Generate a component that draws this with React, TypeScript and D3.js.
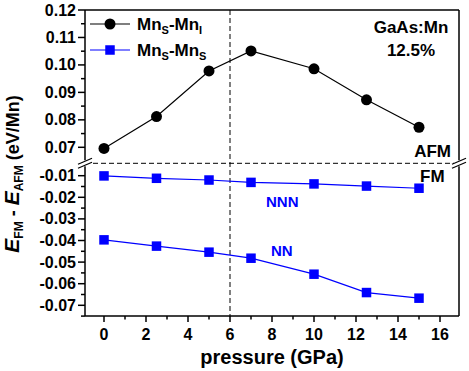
import React from "react";
import { scaleLinear, line, range } from "d3";

const pressure = [0, 2.5, 5, 7, 10, 12.5, 15];
const mnsMni = [0.0696, 0.0812, 0.0978, 0.1051, 0.0986, 0.0873, 0.0773];
const nnn = [-0.0101, -0.0112, -0.012, -0.0131, -0.0138, -0.0148, -0.0158];
const nn = [-0.0397, -0.0426, -0.0454, -0.0482, -0.0556, -0.0641, -0.0667];
const xTicks = [0, 2, 4, 6, 8, 10, 12, 14, 16];
const yTopTicks = [0.07, 0.08, 0.09, 0.1, 0.11, 0.12];
const yBotTicks = [-0.01, -0.02, -0.03, -0.04, -0.05, -0.06, -0.07];

const FONT = "'Liberation Sans', Arial, sans-serif";
const BLUE = "#0000ff";

export default function App() {
  const width = 469;
  const height = 371;
  const left = 85;
  const right = 459;
  const top = 10;
  const bottom = 316;
  const breakY = 163.3;
  const sq = 9.5;

  const x = scaleLinear().domain([0, 16]).range([104, 440]);
  const yTop = scaleLinear().domain([0.07, 0.12]).range([147.3, top]);
  const yBot = scaleLinear().domain([-0.01, -0.07]).range([175.7, 305.3]);

  const topLine = line<number>()
    .x((_, i) => x(pressure[i]))
    .y((d) => yTop(d));
  const botLine = line<number>()
    .x((_, i) => x(pressure[i]))
    .y((d) => yBot(d));

  const breakMark = (cx: number) => (
    <g>
      <rect x={cx - 5} y={breakY - 3} width={10} height={6} fill="white" />
      <line x1={cx - 7} y1={breakY + 1} x2={cx + 7} y2={breakY - 5} stroke="black" strokeWidth={1.2} />
      <line x1={cx - 7} y1={breakY + 5} x2={cx + 7} y2={breakY - 1} stroke="black" strokeWidth={1.2} />
    </g>
  );

  return (
    <svg width={width} height={height} style={{ position: "absolute", left: 0, top: 0 }} fontFamily={FONT}>
      <rect width={width} height={height} fill="white" />

      {/* dashed guides */}
      <line x1={x(6)} x2={x(6)} y1={top} y2={bottom} stroke="black" strokeDasharray="5,3" strokeWidth={1} />
      <line x1={left} x2={right} y1={breakY} y2={breakY} stroke="black" strokeDasharray="5,3" strokeWidth={1} />

      {/* frame */}
      <line x1={left} x2={right} y1={top} y2={top} stroke="black" strokeWidth={1.5} />
      <line x1={left} x2={right} y1={bottom} y2={bottom} stroke="black" strokeWidth={1.5} />
      <line x1={left} x2={left} y1={top} y2={bottom} stroke="black" strokeWidth={1.5} />
      <line x1={right} x2={right} y1={top} y2={bottom} stroke="black" strokeWidth={1.5} />
      {breakMark(left)}
      {breakMark(right)}

      {/* x ticks */}
      {xTicks.map((t) => (
        <g key={"x" + t}>
          <line x1={x(t)} x2={x(t)} y1={bottom} y2={bottom + 6} stroke="black" strokeWidth={1.5} />
          <text x={x(t)} y={340} textAnchor="middle" fontSize={16} fontWeight="bold">{t}</text>
        </g>
      ))}
      {range(1, 17, 2).map((t) => (
        <line key={"xm" + t} x1={x(t)} x2={x(t)} y1={bottom} y2={bottom + 3.5} stroke="black" strokeWidth={1.5} />
      ))}

      {/* y ticks top */}
      {yTopTicks.map((t) => (
        <g key={"yt" + t}>
          <line x1={left - 7} x2={left} y1={yTop(t)} y2={yTop(t)} stroke="black" strokeWidth={1.5} />
          <text x={76} y={yTop(t) + 5.5} textAnchor="end" fontSize={16} fontWeight="bold">{t.toFixed(2)}</text>
        </g>
      ))}
      {yTopTicks.slice(0, -1).map((t) => (
        <line key={"ytm" + t} x1={left - 4} x2={left} y1={yTop(t + 0.005)} y2={yTop(t + 0.005)} stroke="black" strokeWidth={1.5} />
      ))}

      {/* y ticks bottom */}
      {yBotTicks.map((t) => (
        <g key={"yb" + t}>
          <line x1={left - 7} x2={left} y1={yBot(t)} y2={yBot(t)} stroke="black" strokeWidth={1.5} />
          <text x={76} y={yBot(t) + 5.5} textAnchor="end" fontSize={16} fontWeight="bold">{t.toFixed(2)}</text>
        </g>
      ))}
      {yBotTicks.map((t) => (
        <line key={"ybm" + t} x1={left - 4} x2={left} y1={yBot(t - 0.005)} y2={yBot(t - 0.005)} stroke="black" strokeWidth={1.5} />
      ))}

      {/* series */}
      <path d={topLine(mnsMni) ?? ""} fill="none" stroke="black" strokeWidth={1.2} />
      {mnsMni.map((v, i) => (
        <circle key={"c" + i} cx={x(pressure[i])} cy={yTop(v)} r={5.5} fill="black" />
      ))}
      <path d={botLine(nnn) ?? ""} fill="none" stroke={BLUE} strokeWidth={1.2} />
      <path d={botLine(nn) ?? ""} fill="none" stroke={BLUE} strokeWidth={1.2} />
      {[...nnn, ...nn].map((v, i) => (
        <rect key={"s" + i} x={x(pressure[i % 7]) - sq / 2} y={yBot(v) - sq / 2} width={sq} height={sq} fill={BLUE} />
      ))}

      {/* legend */}
      <line x1={90} x2={130} y1={24} y2={24} stroke="black" strokeWidth={1.2} />
      <circle cx={110} cy={24} r={5.5} fill="black" />
      <text x={137} y={30} fontSize={17} fontWeight="bold">
        Mn<tspan fontSize={11} dy={4}>S</tspan><tspan dy={-4}>-Mn</tspan><tspan fontSize={11} dy={4}>I</tspan>
      </text>
      <line x1={90} x2={130} y1={50} y2={50} stroke={BLUE} strokeWidth={1.2} />
      <rect x={110 - sq / 2} y={50 - sq / 2} width={sq} height={sq} fill={BLUE} />
      <text x={137} y={56} fontSize={17} fontWeight="bold">
        Mn<tspan fontSize={11} dy={4}>S</tspan><tspan dy={-4}>-Mn</tspan><tspan fontSize={11} dy={4}>S</tspan>
      </text>

      {/* annotations */}
      <text x={411} y={33} textAnchor="middle" fontSize={17} fontWeight="bold">GaAs:Mn</text>
      <text x={411} y={56} textAnchor="middle" fontSize={17} fontWeight="bold">12.5%</text>
      <text x={451} y={157} textAnchor="end" fontSize={17} fontWeight="bold">AFM</text>
      <text x={420} y={182} fontSize={17} fontWeight="bold">FM</text>
      <text x={266} y={207} fontSize={15} fontWeight="bold" fill={BLUE}>NNN</text>
      <text x={271} y={256} fontSize={15} fontWeight="bold" fill={BLUE}>NN</text>

      {/* axis titles */}
      <text x={272} y={364} textAnchor="middle" fontSize={20} fontWeight="bold">pressure (GPa)</text>
      <text transform="translate(19,174) rotate(-90)" textAnchor="middle" fontSize={18} fontWeight="bold">
        <tspan fontStyle="italic" fontSize={21}>E</tspan><tspan fontSize={12} dy={4}>FM</tspan>
        <tspan dy={-4}> - </tspan><tspan fontStyle="italic" fontSize={21}>E</tspan><tspan fontSize={12} dy={4}>AFM</tspan>
        <tspan dy={-4}> (eV/Mn)</tspan>
      </text>
    </svg>
  );
}
